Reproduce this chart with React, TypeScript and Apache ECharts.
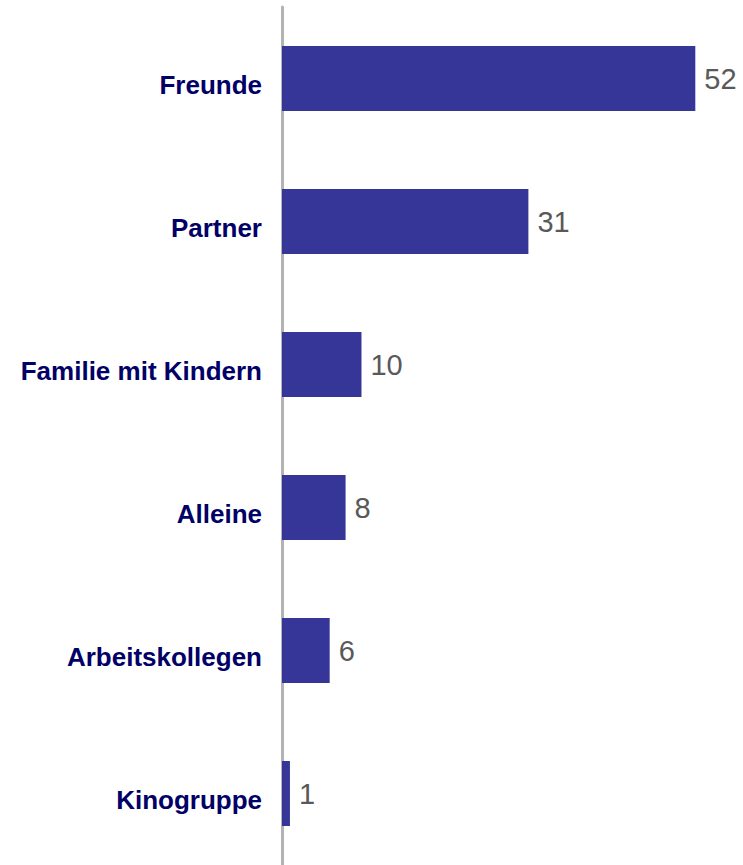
import React, { useEffect, useRef } from "react";
import * as echarts from "echarts";

const categories = ["Freunde", "Partner", "Familie mit Kindern", "Alleine", "Arbeitskollegen", "Kinogruppe"];
const values = [52, 31, 10, 8, 6, 1];

export default function App() {
  const ref = useRef<HTMLDivElement>(null);
  useEffect(() => {
    if (!ref.current) return;
    const chart = echarts.init(ref.current, undefined, { renderer: "svg" });
    chart.setOption({
      animation: false,
      backgroundColor: "#ffffff",
      grid: { left: 282, right: 0, top: 7, height: 862, containLabel: false },
      xAxis: { type: "value", min: 0, max: 58, show: false, splitLine: { show: false } },
      yAxis: {
        type: "category",
        data: categories,
        inverse: true,
        axisLine: { show: true, lineStyle: { color: "#b3b3b3", width: 3 } },
        axisTick: { show: false },
        axisLabel: {
          margin: 20,
          formatter: "{a|{value}}",
          rich: {
            a: {
              color: "#000066",
              fontWeight: "bold",
              fontSize: 26,
              padding: [12, 0, 0, 0],
              fontFamily: "'Liberation Sans', Arial, sans-serif",
            },
          },
        },
      },
      series: [
        {
          type: "bar",
          data: values,
          barWidth: 65,
          itemStyle: { color: "#363699" },
          label: {
            show: true,
            position: "right",
            distance: 9,
            color: "#595959",
            fontSize: 29,
            fontFamily: "'Liberation Sans', Arial, sans-serif",
          },
        },
      ],
    });
    return () => chart.dispose();
  }, []);
  return <div ref={ref} style={{ position: "fixed", left: 0, top: 0, width: 743, height: 865 }} />;
}
